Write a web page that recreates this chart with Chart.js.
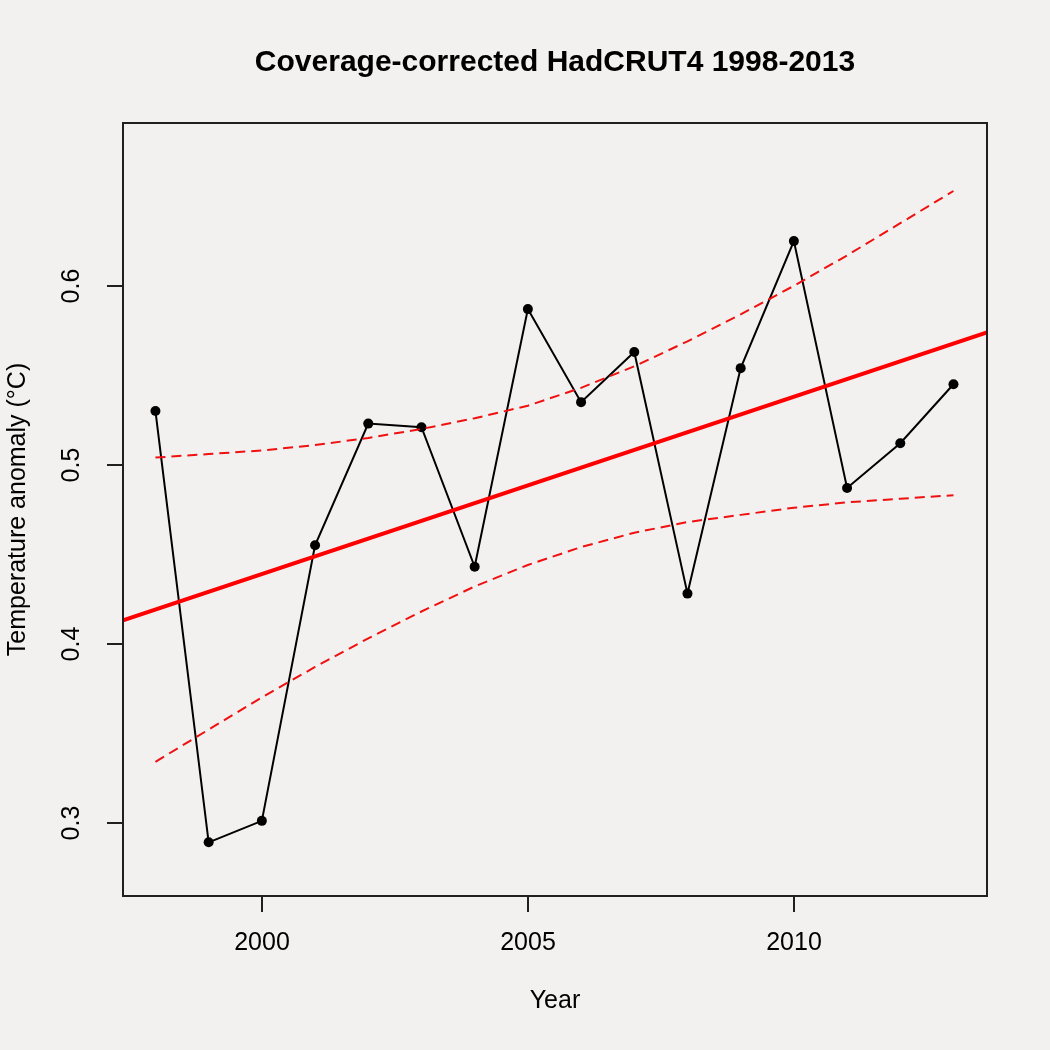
<!DOCTYPE html>
<html><head><meta charset="utf-8">
<script src="https://cdn.jsdelivr.net/npm/chart.js@4.4.1/dist/chart.umd.min.js"></script>
<style>html,body{margin:0;padding:0;background:#f2f1ef;} #wrap{width:1050px;height:1050px;}</style>
</head><body><div id="wrap"><canvas id="c" width="1050" height="1050"></canvas></div>
<script>
const titleText = 'Coverage-corrected HadCRUT4 1998-2013';
const xTitle = 'Year';
const yTitle = 'Temperature anomaly (\u00B0C)';
const years = [1998,1999,2000,2001,2002,2003,2004,2005,2006,2007,2008,2009,2010,2011,2012,2013];
const anomaly = [0.530,0.289,0.301,0.455,0.523,0.521,0.443,0.587,0.535,0.563,0.428,0.554,0.625,0.487,0.512,0.545];
const upperCI = [0.504,0.506,0.508,0.511,0.515,0.520,0.526,0.533,0.543,0.555,0.569,0.584,0.600,0.617,0.635,0.653];
const lowerCI = [0.334,0.352,0.370,0.387,0.403,0.418,0.432,0.444,0.454,0.462,0.468,0.472,0.476,0.479,0.481,0.483];
const trendYears = [1997.39, 2013.63];
const trendValues = [0.413, 0.574];
const xTicks = [2000, 2005, 2010];
const yTicks = [0.3, 0.4, 0.5, 0.6];
const xRange = [1997.39, 2013.63];
const yRange = [0.259, 0.691];

const pts = (xs, ys) => xs.map((x, i) => ({x: x, y: ys[i]}));
const FONT = '"Liberation Sans", Arial, Helvetica, sans-serif';

const rPlot = {
  id: 'rPlot',
  beforeDraw(chart) {
    const c = chart.ctx;
    c.save();
    c.fillStyle = '#f2f1ef';
    c.fillRect(0, 0, chart.width, chart.height);
    c.restore();
  },
  afterDraw(chart) {
    const c = chart.ctx, a = chart.chartArea;
    const xs = chart.scales.x, ys = chart.scales.y;
    c.save();
    c.strokeStyle = '#231f20';
    c.lineWidth = 2;
    c.strokeRect(a.left, a.top, a.right - a.left, a.bottom - a.top);
    c.fillStyle = '#000';
    c.font = '25px ' + FONT;
    c.textAlign = 'center';
    c.textBaseline = 'middle';
    xTicks.forEach(v => {
      const px = Math.round(xs.getPixelForValue(v));
      c.beginPath(); c.moveTo(px, a.bottom); c.lineTo(px, a.bottom + 16); c.stroke();
      c.fillText(String(v), px, a.bottom + 47);
    });
    yTicks.forEach(v => {
      const py = Math.round(ys.getPixelForValue(v));
      c.beginPath(); c.moveTo(a.left, py); c.lineTo(a.left - 16, py); c.stroke();
      c.save();
      c.translate(a.left - 51, py);
      c.rotate(-Math.PI / 2);
      c.fillText(v.toFixed(1), 0, 0);
      c.restore();
    });
    c.fillText(xTitle, (a.left + a.right) / 2, a.bottom + 105);
    c.save();
    c.translate(a.left - 105, (a.top + a.bottom) / 2);
    c.rotate(-Math.PI / 2);
    c.fillText(yTitle, 0, 0);
    c.restore();
    c.font = 'bold 30px ' + FONT;
    c.fillText(titleText, (a.left + a.right) / 2, 63);
    c.restore();
  }
};

new Chart(document.getElementById('c'), {
  type: 'scatter',
  data: {
    datasets: [
      { data: pts(years, anomaly), showLine: true, borderColor: '#000', borderWidth: 2,
        pointRadius: 5, pointBackgroundColor: '#000', pointBorderWidth: 0, order: 3 },
      { data: pts(trendYears, trendValues), showLine: true, borderColor: '#ff0000', borderWidth: 4,
        pointRadius: 0, order: 1 },
      { data: pts(years, upperCI), showLine: true, borderColor: '#f01010', borderWidth: 2,
        borderDash: [10, 6], pointRadius: 0, order: 2 },
      { data: pts(years, lowerCI), showLine: true, borderColor: '#f01010', borderWidth: 2,
        borderDash: [10, 6], pointRadius: 0, order: 2 }
    ]
  },
  options: {
    responsive: false,
    animation: false,
    devicePixelRatio: 1,
    layout: { padding: { left: 123, top: 123, right: 63, bottom: 154 } },
    plugins: { legend: { display: false }, tooltip: { enabled: false }, title: { display: false } },
    scales: {
      x: { type: 'linear', min: xRange[0], max: xRange[1], display: false },
      y: { type: 'linear', min: yRange[0], max: yRange[1], display: false }
    }
  },
  plugins: [rPlot]
});
</script>
</body></html>
